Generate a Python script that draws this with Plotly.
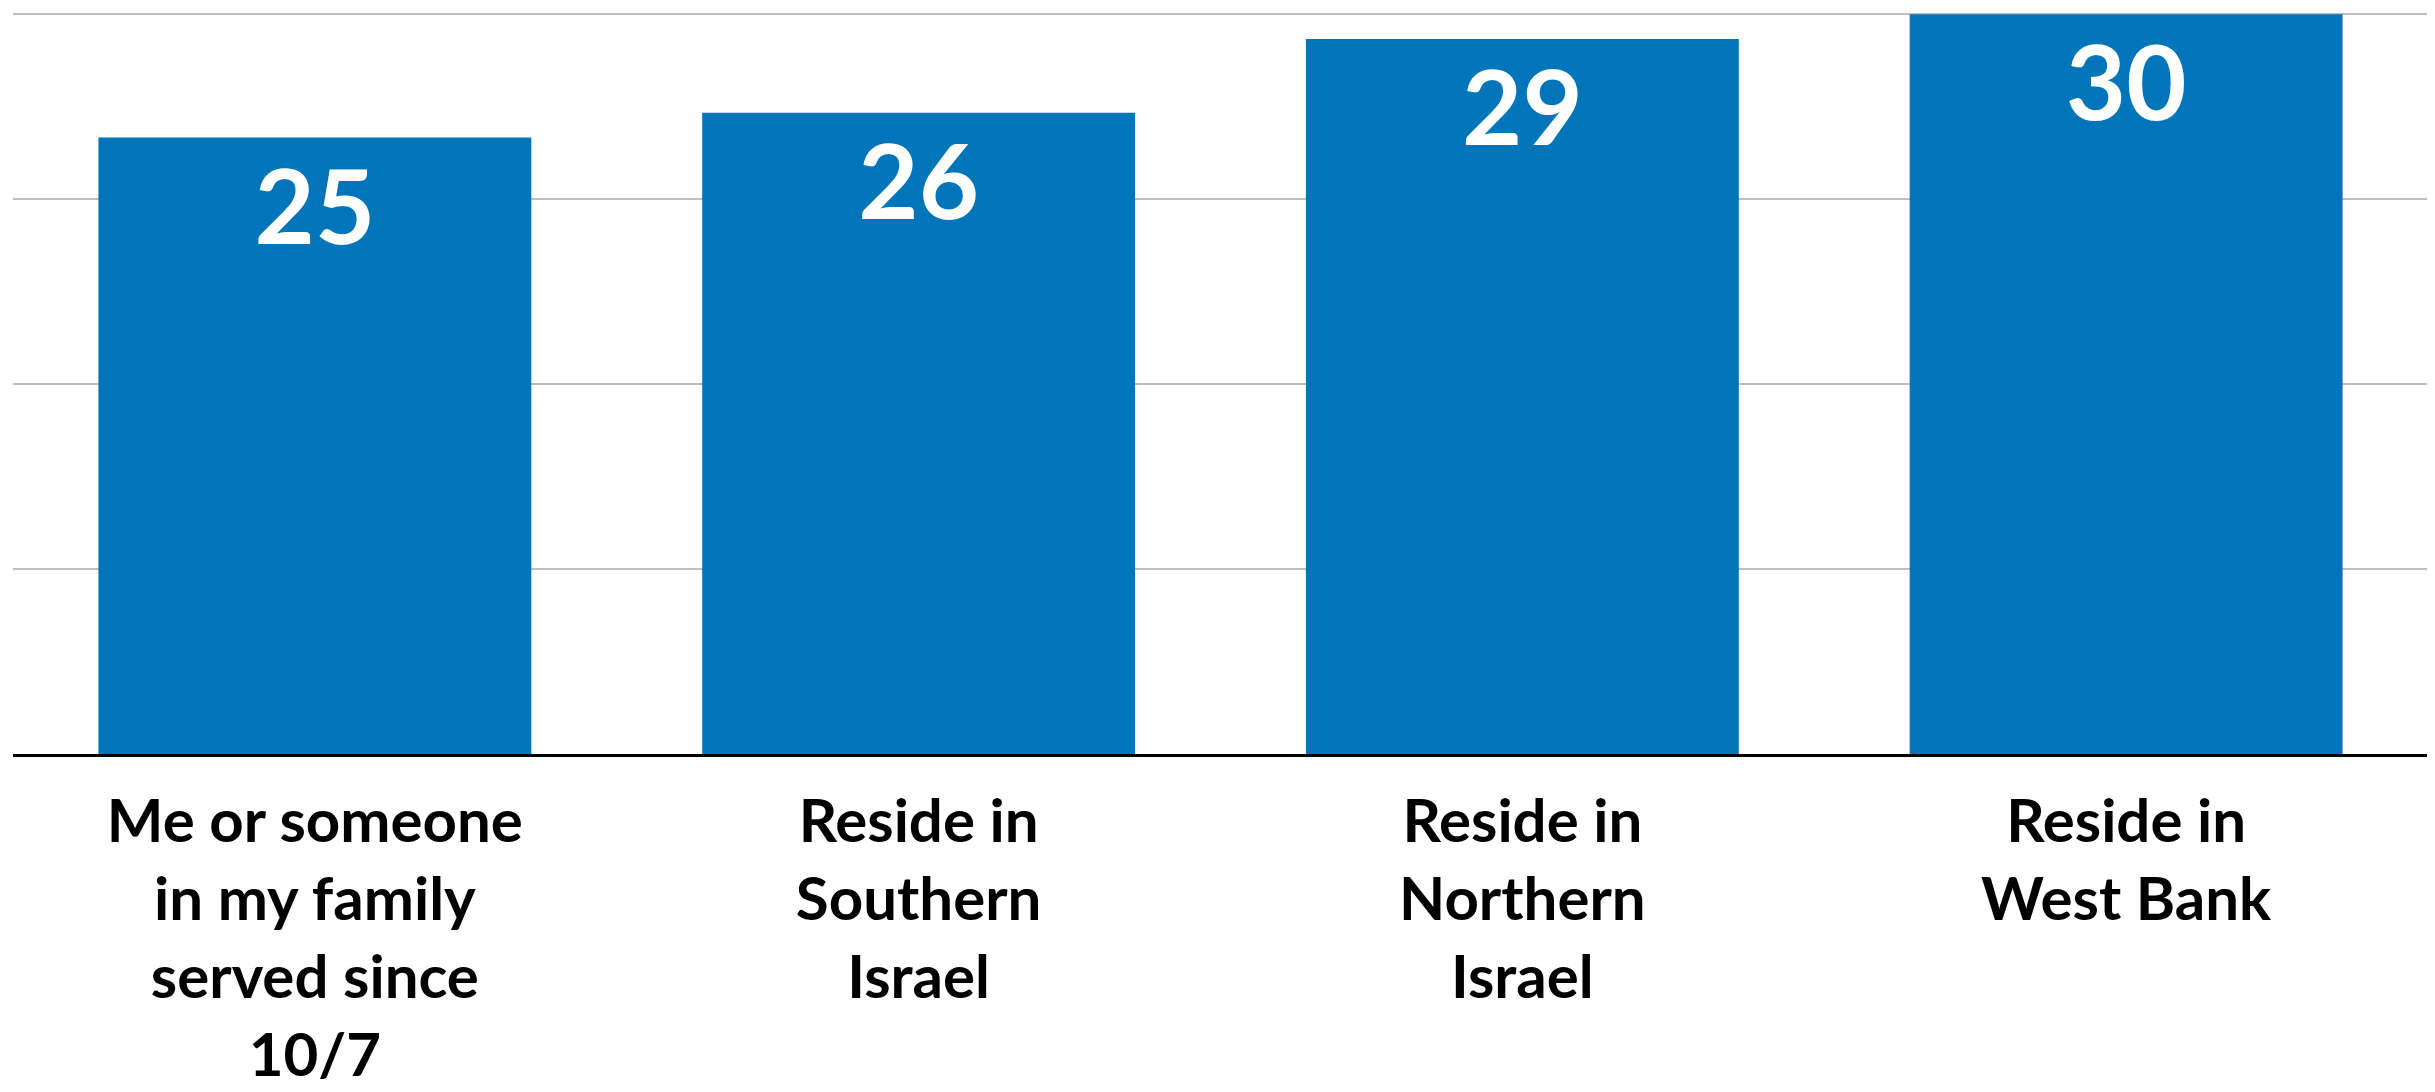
import plotly.graph_objects as go

categories = [
    "Me or someone<br>in my family<br>served since<br>10/7",
    "Reside in<br>Southern<br>Israel",
    "Reside in<br>Northern<br>Israel",
    "Reside in<br>West Bank",
]
values = [25, 26, 29, 30]
value_labels = ["25", "26", "29", "30"]

BAR_COLOR = "#0075BA"
FONT = "Lato"

fig = go.Figure()
fig.add_trace(go.Bar(
    x=categories,
    y=values,
    text=value_labels,
    textposition="inside",
    insidetextanchor="end",
    textangle=0,
    constraintext="none",
    insidetextfont=dict(family=FONT, size=104, color="white", weight="bold"),
    marker=dict(color=BAR_COLOR, line=dict(width=0)),
    hoverinfo="skip",
))

# the page body keeps a default 8px margin, so the figure is 8px smaller
fig.update_layout(
    width=2427,
    height=1084,
    margin=dict(l=5, r=7, t=4.5, b=338, autoexpand=False),
    paper_bgcolor="white",
    plot_bgcolor="white",
    bargap=0.283,
    showlegend=False,
    font=dict(family=FONT, color="#000000"),
)
fig.update_xaxes(
    automargin=False,
    showline=True,
    linecolor="#000000",
    linewidth=2.5,
    showgrid=False,
    ticks="",
    tickfont=dict(family=FONT, size=60, color="#000000", weight="bold"),
    ticklabelstandoff=13,
)
fig.update_yaxes(
    automargin=False,
    range=[0, 30.05],
    dtick=7.5,
    tick0=0,
    showticklabels=False,
    showgrid=True,
    gridcolor="#BFBFBF",
    gridwidth=2,
    zeroline=False,
    ticks="",
)

fig.write_html("out.html")
